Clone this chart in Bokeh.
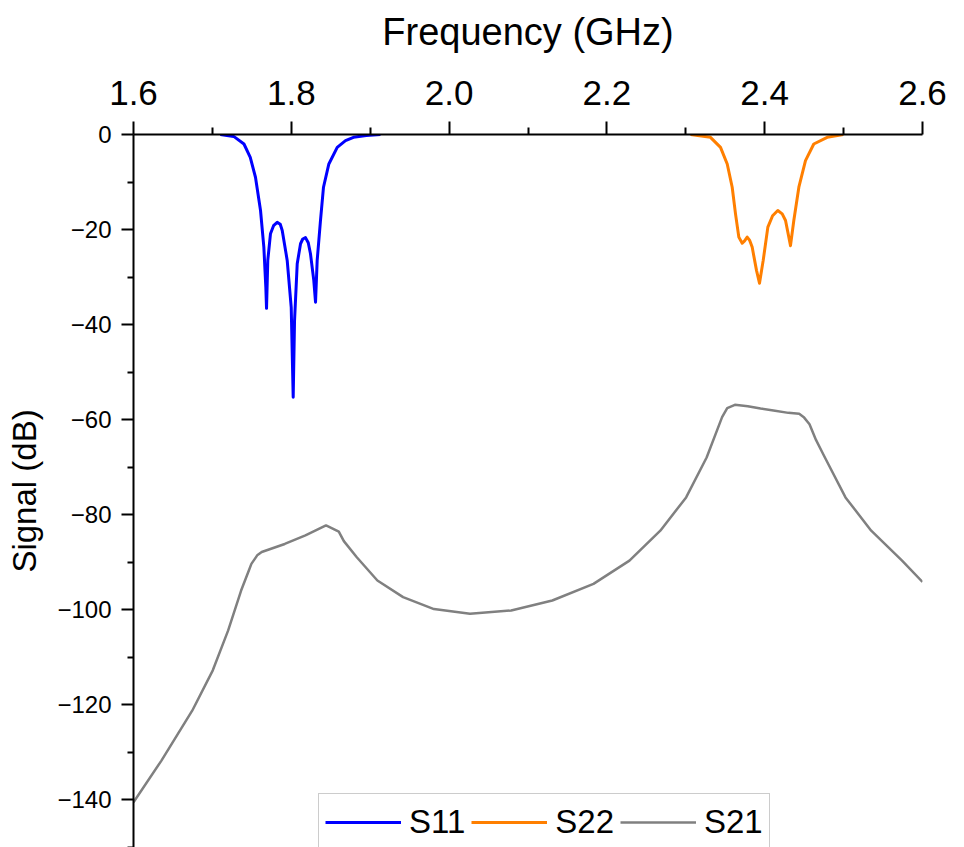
from bokeh.plotting import figure
from bokeh.models import Range1d, FixedTicker, PrintfTickFormatter, Legend, LegendItem
from bokeh.embed import file_html
from bokeh.resources import INLINE

# ---------------- data ----------------
s11_f = [1.710, 1.727, 1.740, 1.748, 1.7546, 1.761, 1.7652, 1.7677, 1.7686, 1.7702,
         1.7736, 1.7775, 1.7821, 1.786, 1.7885, 1.7948, 1.7999, 1.8024, 1.8041, 1.8075,
         1.8117, 1.8145, 1.818, 1.8215, 1.8243, 1.8285, 1.8307, 1.8328, 1.837, 1.8408,
         1.8476, 1.8582, 1.8687, 1.8788, 1.895, 1.913]
s11_db = [0.0, -0.4, -2.0, -4.8, -9.0, -16.0, -23.7, -32.1, -36.6, -26.5,
          -20.9, -19.2, -18.5, -18.9, -20.2, -26.5, -36.4, -55.3, -39.2, -27.2,
          -23.0, -22.0, -21.7, -22.8, -25.1, -30.7, -35.3, -26.5, -18.1, -11.1,
          -6.2, -2.7, -1.3, -0.6, -0.2, 0.0]

s22_f = [2.306, 2.3313, 2.344, 2.3525, 2.3588, 2.363, 2.3672, 2.3715, 2.3745, 2.3778,
         2.381, 2.3841, 2.3896, 2.3934, 2.3981, 2.404, 2.410, 2.4166, 2.4222, 2.4264,
         2.4327, 2.4369, 2.4433, 2.4517, 2.4622, 2.4792, 2.4996]
s22_db = [0.0, -0.6, -2.7, -6.2, -11.1, -16.7, -21.6, -22.9, -22.4, -21.6,
          -22.3, -23.7, -28.6, -31.3, -26.5, -19.5, -17.1, -16.0, -16.7, -18.1,
          -23.4, -18.1, -11.1, -5.5, -2.0, -0.6, 0.0]

s21_f = [1.6000, 1.6354, 1.6744, 1.7005, 1.7200, 1.7364, 1.7462, 1.7494, 1.7568, 1.7625,
         1.7917, 1.8179, 1.8440, 1.8518, 1.8602, 1.8666, 1.8830, 1.9091, 1.9417, 1.9808,
         2.0265, 2.0787, 2.1308, 2.1830, 2.2286, 2.2677, 2.3004, 2.3264, 2.3460, 2.3525,
         2.3622, 2.3786, 2.3947, 2.4111, 2.4300, 2.4437, 2.4500, 2.4568, 2.4650, 2.4763,
         2.5024, 2.5350, 2.5741, 2.6000]
s21_db = [-140.6, -131.8, -121.3, -112.8, -104.4, -96.0, -91.8, -90.4, -88.6, -87.9,
          -86.2, -84.4, -82.3, -82.9, -83.6, -85.6, -89.0, -93.9, -97.4, -99.9,
          -100.9, -100.2, -98.1, -94.6, -89.7, -83.4, -76.4, -68.0, -59.5, -57.6,
          -56.9, -57.2, -57.7, -58.1, -58.6, -58.8, -59.6, -61.0, -64.3, -68.0,
          -76.4, -83.4, -89.7, -94.2]

x_ticks = [1.6, 1.8, 2.0, 2.2, 2.4, 2.6]
x_minor = [1.7, 1.9, 2.1, 2.3, 2.5]
y_ticks = [0, -20, -40, -60, -80, -100, -120, -140]
y_tick_labels = ["0", "\u221220", "\u221240", "\u221260", "\u221280", "\u2212100", "\u2212120", "\u2212140"]
y_minor = [-10, -30, -50, -70, -90, -110, -130, -150]

series_names = ["S11", "S22", "S21"]
series_colors = ["#0000FF", "#FF7F00", "#808080"]

FONT = "Liberation Sans"

# ---------------- figure ----------------
p = figure(width=956, height=847, output_backend="svg", toolbar_location=None,
           x_axis_location="above",
           x_range=Range1d(1.6, 2.6), y_range=Range1d(-150.1, 0),
           min_border_left=133, min_border_right=34, min_border_top=134, min_border_bottom=0)
p.outline_line_color = None
p.xgrid.visible = False
p.ygrid.visible = False
p.background_fill_color = "white"
p.border_fill_color = "white"

r1 = p.line(s11_f, s11_db, line_color=series_colors[0], line_width=3, line_join="round")
r2 = p.line(s22_f, s22_db, line_color=series_colors[1], line_width=3, line_join="round")
r3 = p.line(s21_f, s21_db, line_color=series_colors[2], line_width=2.5, line_join="round")

xa = p.xaxis[0]
xa.ticker = FixedTicker(ticks=x_ticks, minor_ticks=x_minor)
xa.formatter = PrintfTickFormatter(format="%.1f")
xa.axis_label = "Frequency (GHz)"
xa.axis_label_text_font = FONT
xa.axis_label_text_font_size = "38px"
xa.axis_label_text_font_style = "normal"
xa.axis_label_text_color = "black"
xa.axis_label_standoff = 25
xa.major_label_text_font = FONT
xa.major_label_text_font_size = "35px"
xa.major_label_text_color = "black"
xa.major_label_standoff = 17
xa.major_tick_out = 13
xa.major_tick_in = 0
xa.minor_tick_out = 7
xa.minor_tick_in = 0
xa.axis_line_width = 2
xa.major_tick_line_width = 2
xa.minor_tick_line_width = 2
xa.axis_line_color = "black"

ya = p.yaxis[0]
ya.ticker = FixedTicker(ticks=y_ticks, minor_ticks=y_minor)
ya.major_label_overrides = {t: l for t, l in zip(y_ticks, y_tick_labels)}
ya.axis_label = "Signal (dB)"
ya.axis_label_text_font = FONT
ya.axis_label_text_font_size = "33px"
ya.axis_label_text_font_style = "normal"
ya.axis_label_text_color = "black"
ya.axis_label_standoff = 11
ya.major_label_text_font = FONT
ya.major_label_text_font_size = "24px"
ya.major_label_text_color = "black"
ya.major_label_standoff = 10
ya.major_tick_out = 12
ya.major_tick_in = 0
ya.minor_tick_out = 6
ya.minor_tick_in = 0
ya.axis_line_width = 2
ya.major_tick_line_width = 2
ya.minor_tick_line_width = 2
ya.axis_line_color = "black"

legend = Legend(items=[LegendItem(label=series_names[0], renderers=[r1]),
                       LegendItem(label=series_names[1], renderers=[r2]),
                       LegendItem(label=series_names[2], renderers=[r3])],
                orientation="horizontal", location=(185, -4))
legend.label_text_font = FONT
legend.label_text_font_size = "33px"
legend.label_text_color = "black"
legend.glyph_width = 76
legend.glyph_height = 44
legend.label_height = 44
legend.label_standoff = 8
legend.spacing = 6
legend.padding = 6
legend.margin = 0
legend.border_line_color = "#999999"
legend.border_line_width = 1.5
legend.background_fill_alpha = 1.0
p.add_layout(legend, "center")

open("out.html", "w").write(file_html(p, INLINE))
